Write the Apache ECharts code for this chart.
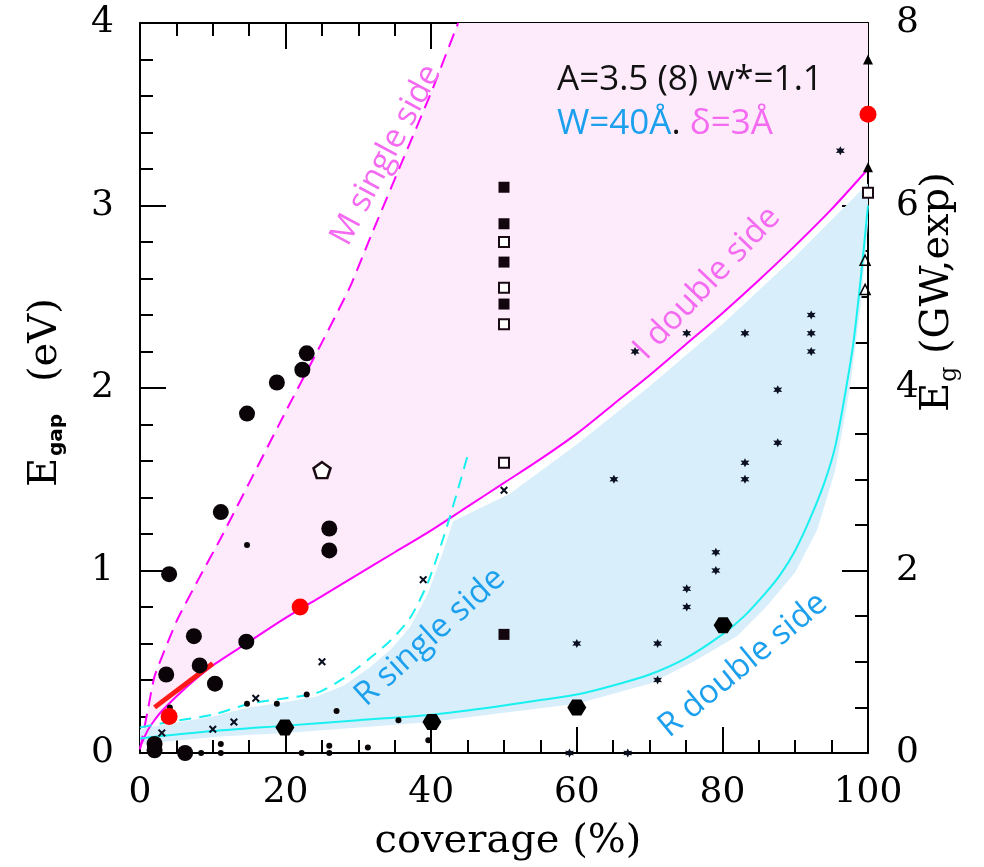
<!DOCTYPE html>
<html><head><meta charset="utf-8">
<script src="https://cdn.jsdelivr.net/npm/echarts@6/dist/echarts.min.js"></script>
<style>html,body{margin:0;padding:0;background:#fff}#c{width:984px;height:867px}</style>
</head><body><div id="c"></div>
<script>
// ---- curves (coverage %, E eV) ----
const mSingleSide = [[0,0.02],[1,0.22],[2,0.42],[5,0.72],[8,0.95],[11,1.17],[15,1.48],[20,1.87],[25,2.25],[28.8,2.55],[32,2.86],[36,3.24],[40,3.62],[43.7,4.0]];
const iDoubleSide = [[0,0.03],[1,0.12],[2,0.18],[3,0.23],[5,0.31],[7.5,0.40],[10,0.48],[15,0.61],[20,0.74],[25,0.86],[30,0.98],[35,1.10],[40,1.22],[45,1.35],[50,1.48],[55,1.61],[60,1.75],[65,1.91],[70,2.07],[75,2.24],[80,2.41],[85,2.59],[90,2.78],[95,2.98],[100,3.2]];
const rSingleSide = [[0,0.14],[4,0.17],[10,0.21],[15,0.27],[20,0.30],[24.3,0.33],[28,0.41],[31.6,0.52],[34.5,0.62],[37.1,0.74],[39.5,0.93],[41.6,1.17],[43.5,1.42],[45,1.63]];
const rDoubleSide = [[0,0.08],[10,0.12],[20,0.15],[30,0.18],[40,0.21],[50,0.26],[55,0.29],[60,0.32],[65,0.37],[70,0.43],[75,0.52],[80,0.65],[83,0.75],[86,0.88],[88,0.98],[90,1.11],[92,1.28],[94,1.48],[95.5,1.68],[97,2.0],[98,2.25],[99,2.6],[100,3.0]];
const blueBandUpper = [[0,0.13],[4,0.16],[10,0.2],[15,0.25],[20,0.28],[24.3,0.31],[28,0.37],[31.6,0.47],[34.5,0.57],[37.1,0.69],[39.5,0.87],[41.6,1.1],[43,1.27],[50.8,1.42],[60,1.69],[70,2.01],[80,2.35],[90,2.72],[100,3.12]];
const blueBandLower = [[100,2.9],[99,2.45],[97.5,2.0],[95.5,1.55],[93,1.22],[90,0.99],[86,0.8],[82,0.64],[76,0.5],[70,0.38],[60,0.27],[50,0.22],[40,0.17],[30,0.14],[20,0.11],[11,0.09],[0,0.05]];
const redSegment = [[2,0.25],[10,0.49]];

// ---- data points ----
const bigCircles = [[4,0.98],[3.6,0.43],[7.4,0.64],[8.2,0.48],[10.3,0.38],[11.1,1.32],[14.7,1.86],[14.6,0.61],[18.8,2.03],[22.3,2.10],[22.9,2.19],[26,1.23],[26,1.11],[2,0.05],[2,0.015],[6.2,0.0]];
const redCircles = [[4,0.2],[22,0.80],[100,3.5]];
const smallDots = [[14.7,1.14],[4.1,0.25],[14.7,0.27],[18.8,0.27],[22.9,0.32],[27,0.23],[35.5,0.18],[39.6,0.07],[11.1,0.05],[11.1,0.0],[8.4,0.0],[22.2,0.0],[26,0.04],[26,0.0],[31.3,0.03]];
const crosses = [[3,0.11],[10,0.13],[12.9,0.17],[15.9,0.30],[25,0.50],[38.9,0.95],[50,1.44]];
const stars = [[68,2.2],[75.1,2.3],[83.1,2.3],[92.2,2.4],[92.2,2.3],[92.2,2.2],[87.6,1.99],[87.6,1.70],[83.1,1.59],[83.1,1.50],[65.1,1.50],[79.1,1.10],[79.1,1.0],[75.1,0.9],[75.1,0.8],[60,0.6],[71.1,0.6],[71.1,0.4],[67,0.0],[59,0.0],[96.2,3.3]];
const hexagons = [[19.9,0.14],[40.1,0.17],[60,0.25],[80.1,0.70]];
const filledSquares = [[50,3.10],[50,2.90],[50,2.69],[50,2.46],[50,0.65]];
const openSquares = [[50,2.80],[50,2.55],[50,2.35],[50,1.59],[100,3.07]];
const filledTriangles = [[100,3.8],[100,3.21]];
const openTriangles = [[99.6,2.70],[99.6,2.54]];
const openPentagons = [[25,1.55]];

// ---- symbol shapes ----
function starPath(n, R, r) {
  let d = '';
  for (let i = 0; i < 2 * n; i++) {
    const a = -Math.PI / 2 + i * Math.PI / n;
    const rr = i % 2 === 0 ? R : r;
    d += (i === 0 ? 'M' : 'L') + (5 + rr * Math.cos(a)).toFixed(2) + ',' + (5 + rr * Math.sin(a)).toFixed(2);
  }
  return 'path://' + d + 'Z';
}
const HEX = 'path://M0,5L2.6,0.5L7.4,0.5L10,5L7.4,9.5L2.6,9.5Z';
const CROSS = 'path://M1.8,0L5,3.2L8.2,0L10,1.8L6.8,5L10,8.2L8.2,10L5,6.8L1.8,10L0,8.2L3.2,5L0,1.8Z';
const PENT = 'path://M5,0L9.76,3.45L7.94,9.05L2.06,9.05L0.24,3.45Z';
const STAR = starPath(6, 5, 2.5);

const chart = echarts.init(document.getElementById('c'));

function polygon(pts, fill, z) {
  return {
    type: 'custom', silent: true, z: z, xAxisIndex: 0, yAxisIndex: 0,
    data: [[0, 0]],
    renderItem: function (params, api) {
      return { type: 'polygon', shape: { points: pts.map(p => api.coord(p)) }, style: { fill: fill } };
    }
  };
}
function curve(pts, color, width, dash, z, smooth) {
  return { type: 'line', data: pts, symbol: 'none', silent: true, z: z, smooth: smooth,
    lineStyle: { color: color, width: width, type: dash || 'solid' } };
}
function scatter(pts, symbol, size, fill, border, bw, z) {
  return { type: 'scatter', data: pts, symbol: symbol, symbolSize: size, clip: false, silent: true, z: z || 5,
    itemStyle: { color: fill, borderColor: border || fill, borderWidth: bw || 0, opacity: 1 } };
}

const pinkPoly = mSingleSide.concat([[100, 4]]).concat(iDoubleSide.slice().reverse());
const bluePoly = blueBandUpper.concat(blueBandLower);

const black = '#000';
const axisLineStyle = { color: black, width: 2 };
function axisBase(extra) {
  return Object.assign({
    type: 'value', splitLine: { show: false },
    axisLine: { show: true, onZero: false, lineStyle: axisLineStyle },
    axisTick: { show: true, inside: true, length: 26, lineStyle: axisLineStyle },
    axisLabel: { color: black, fontFamily: 'DejaVu Serif', fontSize: 36 }
  }, extra);
}

const tickFont = 'DejaVu Serif';
const magentaText = '#f46af0';
const blueText = '#1ca0ee';
const annFont = '33px "Open Sans"';

chart.setOption({
  animation: false,
  backgroundColor: '#fff',
  grid: { left: 140, right: 116, top: 23, bottom: 114 },
  xAxis: [
    axisBase({ position: 'bottom', min: 0, max: 100, interval: 20,
      minorTick: { show: true, splitNumber: 4, length: 13, lineStyle: axisLineStyle },
      axisLabel: { color: black, fontFamily: tickFont, fontSize: 36, margin: 22 } }),
    axisBase({ position: 'top', min: 0, max: 100, interval: 20,
      minorTick: { show: true, splitNumber: 4, length: 13, lineStyle: axisLineStyle },
      axisLabel: { show: false } })
  ],
  yAxis: [
    axisBase({ position: 'left', min: 0, max: 4, interval: 1,
      minorTick: { show: true, splitNumber: 5, length: 13, lineStyle: axisLineStyle },
      axisLabel: { color: black, fontFamily: tickFont, fontSize: 36, margin: 26 } }),
    axisBase({ position: 'right', min: 0, max: 8, interval: 2,
      minorTick: { show: true, splitNumber: 4, length: 13, lineStyle: axisLineStyle },
      axisLabel: { color: black, fontFamily: tickFont, fontSize: 36, margin: 28 } })
  ],
  series: [
    polygon(pinkPoly, '#fdebfb', 1),
    polygon(bluePoly, '#d8eefb', 1),
    curve(mSingleSide, '#ff00ff', 2, [14, 8], 3, 0.15),
    curve(iDoubleSide, '#ff00ff', 2, null, 3, 0.3),
    curve(rSingleSide, '#19f0f0', 2, [12, 8], 3, 0.25),
    curve(rDoubleSide, '#19f0f0', 2, null, 3, 0.3),
    { type: 'line', data: redSegment, symbol: 'none', silent: true, z: 4, lineStyle: { color: '#ff1a1a', width: 5 } },
    scatter(smallDots, 'circle', 6, '#0a0608', null, 0, 5),
    scatter(crosses, CROSS, 8, '#0a1020', null, 0, 5),
    scatter(stars, STAR, 9, '#0a1020', null, 0, 5),
    scatter(bigCircles, 'circle', 16, '#0a0408', null, 0, 6),
    scatter(hexagons, HEX, [19, 16], '#000', null, 0, 6),
    scatter(filledSquares, 'rect', 11, '#14060f', null, 0, 6),
    scatter(openSquares, 'rect', 10, '#fff', '#1a0a14', 2, 6),
    scatter(filledTriangles, 'triangle', 10, '#000', null, 0, 6),
    scatter(openTriangles, 'triangle', 10, 'rgba(255,255,255,0)', '#000', 1.5, 6),
    scatter(openPentagons, PENT, [17, 16], '#fff', '#1a0a14', 2.5, 6),
    scatter(redCircles, 'circle', 17, '#ff0000', null, 0, 7)
  ],
  graphic: [
    { type: 'text', x: 557, y: 80, z: 20, style: { text: 'A=3.5 (8) w*=1.1', font: '35px "Open Sans"', fill: '#111', align: 'left', verticalAlign: 'middle' } },
    { type: 'text', x: 557, y: 124, z: 20, style: {
        text: '{b|W=40Å}{k|. }{m|δ=3Å}', align: 'left', verticalAlign: 'middle',
        rich: { b: { font: '35px "Open Sans"', fill: blueText }, k: { font: '35px "Open Sans"', fill: '#111' }, m: { font: '35px "Open Sans"', fill: magentaText } } } },
    { type: 'text', x: 386, y: 155, rotation: 62 * Math.PI / 180, z: 20, style: { text: 'M single side', font: annFont, fill: magentaText, align: 'center', verticalAlign: 'middle' } },
    { type: 'text', x: 707, y: 283, rotation: 46.5 * Math.PI / 180, z: 20, style: { text: 'I double side', font: annFont, fill: magentaText, align: 'center', verticalAlign: 'middle' } },
    { type: 'text', x: 430, y: 637, rotation: 42 * Math.PI / 180, z: 20, style: { text: 'R single side', font: annFont, fill: blueText, align: 'center', verticalAlign: 'middle' } },
    { type: 'text', x: 743, y: 665, rotation: 39.5 * Math.PI / 180, z: 20, style: { text: 'R double side', font: annFont, fill: blueText, align: 'center', verticalAlign: 'middle' } },
    { type: 'text', x: 508, y: 842, z: 20, style: { text: 'coverage (%)', font: '40px "DejaVu Serif"', fill: '#000', align: 'center', verticalAlign: 'middle' } },
    { type: 'group', x: 46, y: 487, rotation: Math.PI / 2, z: 20, children: [
        { type: 'text', x: 0, y: 0, style: { text: 'E', font: '40px "DejaVu Serif"', fill: '#000', align: 'left', verticalAlign: 'middle' } },
        { type: 'text', x: 31, y: 11, style: { text: 'gap', font: 'bold 20px "DejaVu Sans"', fill: '#000', align: 'left', verticalAlign: 'middle' } },
        { type: 'text', x: 105, y: 0, style: { text: '(eV)', font: '40px "DejaVu Serif"', fill: '#000', align: 'left', verticalAlign: 'middle' } }
    ] },
    { type: 'group', x: 938, y: 412, rotation: Math.PI / 2, z: 20, children: [
        { type: 'text', x: 0, y: 0, style: { text: 'E', font: '40px "DejaVu Serif"', fill: '#000', align: 'left', verticalAlign: 'middle' } },
        { type: 'text', x: 30, y: 12, style: { text: 'g', font: '24px "DejaVu Serif"', fill: '#000', align: 'left', verticalAlign: 'middle' } },
        { type: 'text', x: 58, y: 0, style: { text: '(GW,exp)', font: '40px "DejaVu Serif"', fill: '#000', align: 'left', verticalAlign: 'middle' } }
    ] }
  ]
});
</script></body></html>
